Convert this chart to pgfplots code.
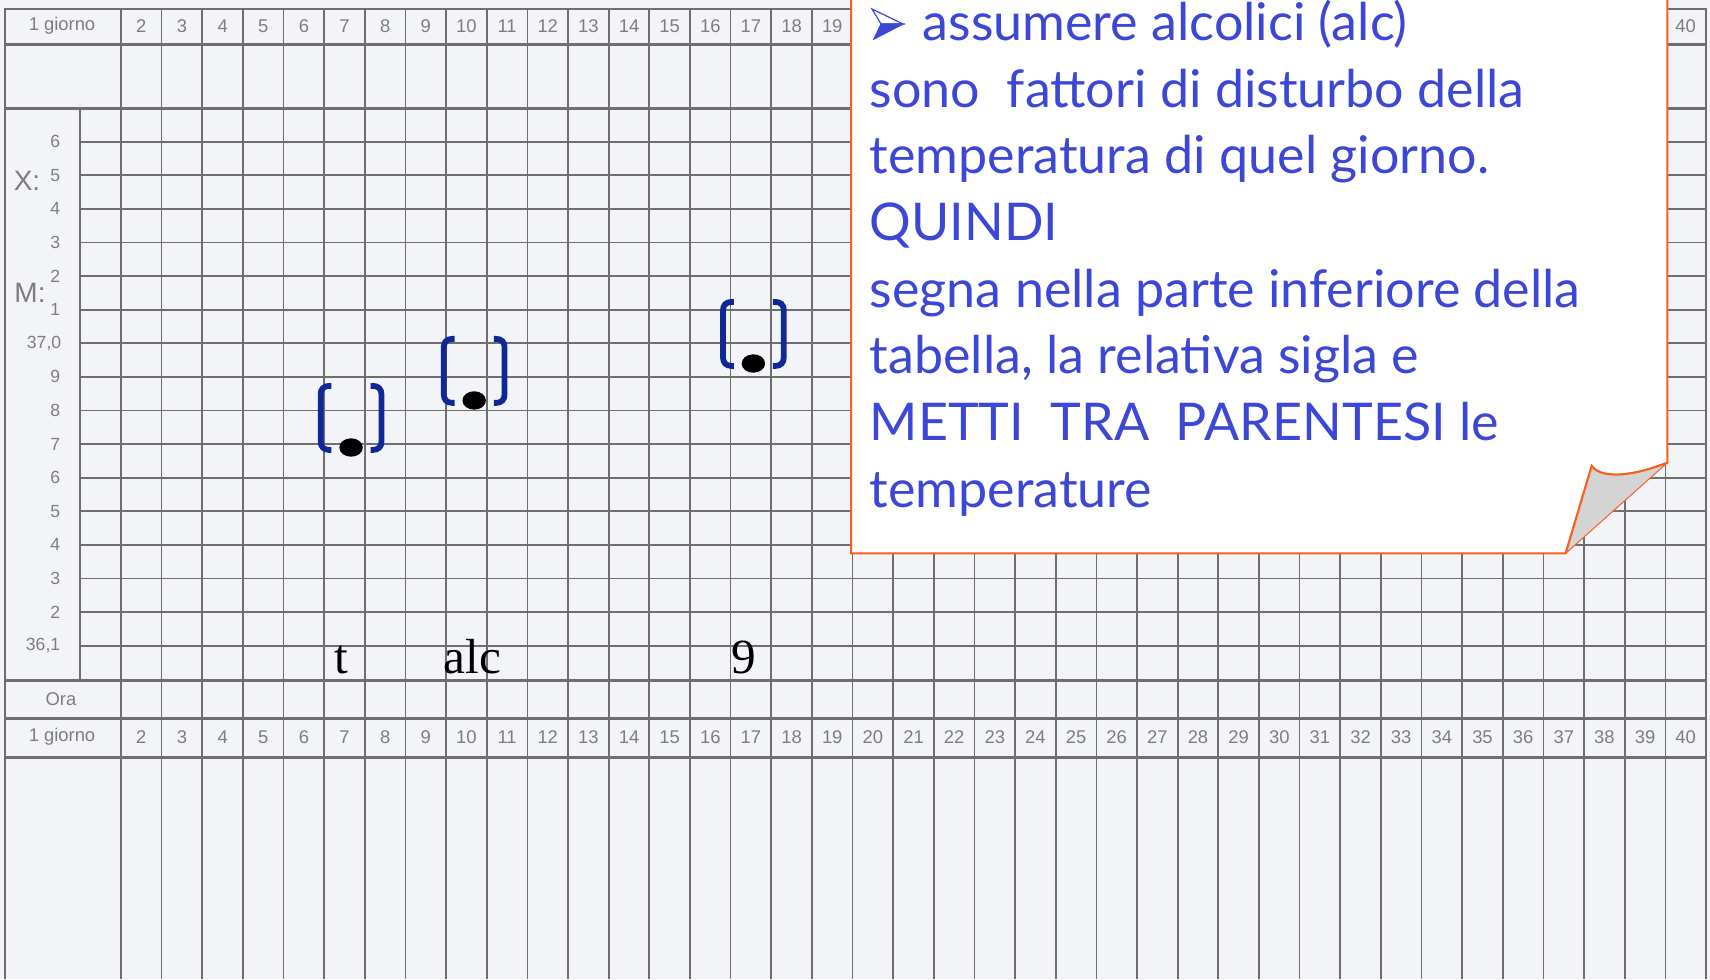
\documentclass[border=0pt]{standalone}
\usepackage{fontspec}
\setmainfont{Liberation Sans}
\newfontfamily\notefont{Lato}
\newfontfamily\serifface{Liberation Serif}
\usepackage{pgfplots}
\pgfplotsset{compat=1.18}
\usetikzlibrary{backgrounds}

\definecolor{paper}{RGB}{243,244,247}
\definecolor{rule}{RGB}{110,110,110}
\definecolor{ink}{RGB}{125,125,125}
\definecolor{navy}{RGB}{16,40,150}
\definecolor{noteblue}{RGB}{60,70,215}
\definecolor{noteedge}{RGB}{250,95,30}
\definecolor{foldgray}{RGB}{212,212,212}

% pair of rounded brackets drawn round a point
\pgfdeclareplotmark{brackets}{%
  \pgfpathmoveto{\pgfpoint{-4.9pt}{15.4pt}}%
  \pgfpathlineto{\pgfpoint{-5.5pt}{15.4pt}}%
  \pgfpathcurveto{\pgfpoint{-6.8pt}{15.4pt}}{\pgfpoint{-7.6pt}{14.6pt}}{\pgfpoint{-7.6pt}{13.3pt}}%
  \pgfpathlineto{\pgfpoint{-7.6pt}{1.5pt}}%
  \pgfpathcurveto{\pgfpoint{-7.6pt}{0.2pt}}{\pgfpoint{-6.8pt}{-0.6pt}}{\pgfpoint{-5.5pt}{-0.6pt}}%
  \pgfpathlineto{\pgfpoint{-4.9pt}{-0.6pt}}%
  \pgfpathmoveto{\pgfpoint{4.9pt}{15.4pt}}%
  \pgfpathlineto{\pgfpoint{5.5pt}{15.4pt}}%
  \pgfpathcurveto{\pgfpoint{6.8pt}{15.4pt}}{\pgfpoint{7.6pt}{14.6pt}}{\pgfpoint{7.6pt}{13.3pt}}%
  \pgfpathlineto{\pgfpoint{7.6pt}{1.5pt}}%
  \pgfpathcurveto{\pgfpoint{7.6pt}{0.2pt}}{\pgfpoint{6.8pt}{-0.6pt}}{\pgfpoint{5.5pt}{-0.6pt}}%
  \pgfpathlineto{\pgfpoint{4.9pt}{-0.6pt}}%
  \pgfusepathqstroke}

\begin{document}
\begin{tikzpicture}
\begin{axis}[
  name=ax,
  hide axis,
  scale only axis,
  width=427.5pt, height=244.75pt,
  xmin=-1.478, xmax=40.599,
  ymin=35.108, ymax=38.022,
  clip=false,
]
\addplot[only marks, mark=brackets, mark options={draw=navy, line width=1.45pt}]
  coordinates {(7.16,36.69) (10.19,36.83) (17.06,36.94)};
\addplot[only marks, mark=*, mark size=2.1pt, mark options={xscale=1.3, draw=black, fill=black}]
  coordinates {(7.16,36.69) (10.19,36.83) (17.06,36.94)};

\node[font=\serifface\fontsize{12.3}{13}\selectfont, anchor=base, inner sep=0] at (axis cs:6.91,36.016) {t};
\node[font=\serifface\fontsize{12.3}{13}\selectfont, anchor=base, inner sep=0] at (axis cs:10.14,36.016) {alc};
\node[font=\serifface\fontsize{12.3}{13}\selectfont, anchor=base, inner sep=0] at (axis cs:16.83,36.016) {9};
\end{axis}

% the printed form, in pixels of the reference (1 px = 0.25pt)
\begin{scope}[shift={(ax.north west)}, x=0.25pt, y=-0.25pt]
  \begin{pgfonlayer}{background}
    \fill[paper] (0,0) rectangle (1710,979);
    % day columns
    \foreach \k in {0,...,38}
      \draw[rule, line width=0.42pt] ({121+\k*40.64},9) -- ({121+\k*40.64},979);
    \draw[rule, line width=0.42pt] (80,108) -- (80,680);
    % temperature lines
    \foreach \k in {0,...,15}
      \draw[rule, line width=0.42pt] (80,{645.7-\k*33.6}) -- (1706,{645.7-\k*33.6});
    % row borders and frame
    \foreach \y in {44,108,680,718,757}
      \draw[rule, line width=0.75pt] (5,\y) -- (1706,\y);
    \draw[rule, line width=0.6pt] (5,979) -- (5,9) -- (1706,9) -- (1706,979);

    \begin{scope}[ink, font=\fontsize{4.6}{5}\selectfont]
      \node at (62,26) {1 giorno};
      \node at (62,737) {1 giorno};
      \node at (61,699) {Ora};
      % top row: days 20 to 39 lie under the note
      \foreach \d in {2,...,19,40}
        \node at ({100.7+(\d-1)*40.64},26) {\d};
      \foreach \d in {2,...,40}
        \node at ({100.7+(\d-1)*40.64},737) {\d};
    \end{scope}
    \begin{scope}[ink, font=\fontsize{4.4}{5}\selectfont, inner sep=0, anchor=east]
      \node[anchor=east] at (61,645.7) {36,1};
      \foreach \k/\t in {1/2,2/3,3/4,4/5,5/6,6/7,7/8,8/9}
        \node[anchor=east] at (61,{645.7-\k*33.6}) {\t};
      \node[anchor=east] at (62,{645.7-9*33.6}) {37,0};
      \foreach \k/\t in {10/1,11/2,12/3,13/4,14/5,15/6}
        \node[anchor=east] at (61,{645.7-\k*33.6}) {\t};
    \end{scope}
    \node[ink, font=\fontsize{7}{8}\selectfont, inner sep=0] at (27,181) {X:};
    \node[ink, font=\fontsize{7}{8}\selectfont, inner sep=0] at (30,293) {M:};
  \end{pgfonlayer}

  % note with a turned-up corner
  \filldraw[fill=white, draw=noteedge, line width=0.5pt]
    (851,-20) -- (851,553.3) -- (1565.7,553.3) -- (1591.7,466)
    .. controls (1598,475) and (1620,481) .. (1667.3,462.7) -- (1667.3,-20);
  \fill[foldgray] (1565.7,553.3) -- (1591.7,466)
    .. controls (1598,475) and (1620,481) .. (1667.3,462.7) -- cycle;
  \draw[noteedge, line width=0.5pt] (1565.7,553.3) -- (1591.7,466)
    .. controls (1598,475) and (1620,481) .. (1667.3,462.7);
  \draw[noteedge, line width=0.25pt] (1667.3,462.7) -- (1565.7,553.3);

  % bullet
  \filldraw[fill=white, draw=noteblue, line width=0.3pt] (872,9) -- (903,24) -- (881,24) -- cycle;
  \filldraw[fill=noteblue, draw=noteblue, line width=0.3pt] (881,24) -- (903,24) -- (874,39) -- cycle;

  \begin{scope}[noteblue, font=\notefont\fontsize{13}{14}\selectfont]
    \node[anchor=base west, inner sep=0] at (922,40) {assumere alcolici (alc)};
    \node[anchor=base west, inner sep=0] at (869,107) {sono\ \ fattori di disturbo della};
    \node[anchor=base west, inner sep=0] at (869,173) {temperatura di quel giorno.};
    \node[anchor=base west, inner sep=0] at (869,240) {QUINDI};
    \node[anchor=base west, inner sep=0] at (869,307) {segna nella parte inferiore della};
    \node[anchor=base west, inner sep=0] at (869,373) {tabella, la relativa sigla e};
    \node[anchor=base west, inner sep=0] at (869,440) {METTI\ \ TRA\ \ PARENTESI le};
    \node[anchor=base west, inner sep=0] at (869,507) {temperature};
  \end{scope}

  \pgfresetboundingbox
  \path (0,0) rectangle (1710,979);
\end{scope}
\end{tikzpicture}
\end{document}
